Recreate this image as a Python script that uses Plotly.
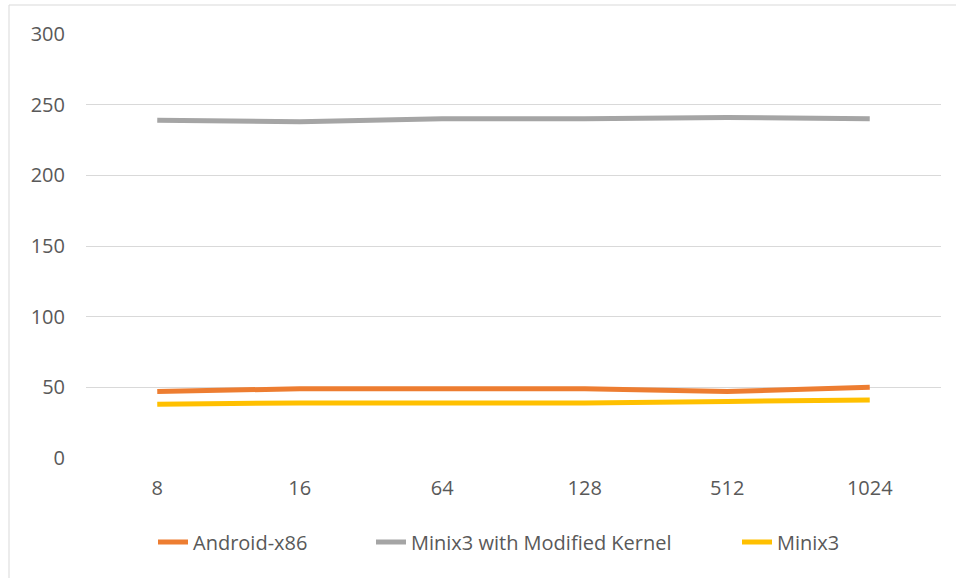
import plotly.graph_objects as go

categories = ["8", "16", "64", "128", "512", "1024"]
android_x86 = [47, 49, 49, 49, 47, 50]
minix3_modified = [239, 238, 240, 240, 241, 240]
minix3 = [38, 39, 39, 39, 40, 41]

series = [
    ("Android-x86", android_x86, "#ED7D31", "legend", 134),
    ("Minix3 with Modified Kernel", minix3_modified, "#A5A5A5", "legend2", 352),
    ("Minix3", minix3, "#FFC000", "legend3", 718),
]

PLOT_L, PLOT_W = 86, 855

fig = go.Figure()
legends = {}
for name, vals, color, leg, px in series:
    fig.add_trace(go.Scatter(
        x=categories, y=vals, name=name, mode="lines",
        line=dict(color=color, width=5), legend=leg,
    ))
    legends[leg] = dict(orientation="h", x=(px + 19 - PLOT_L) / PLOT_W, xanchor="left",
                        y=-0.198, yanchor="middle", bgcolor="rgba(0,0,0,0)",
                        font=dict(size=20, color="#595959"), itemwidth=30)

fig.update_layout(
    width=956, height=578,
    margin=dict(l=86, r=15, t=34, b=120),
    paper_bgcolor="white", plot_bgcolor="white",
    font=dict(family="Open Sans", size=20, color="#595959"),
    showlegend=True,
    xaxis=dict(type="category", range=[-0.5, 5.5], showgrid=False, showline=False,
               zeroline=False, ticks="", ticklabelstandoff=16,
               tickfont=dict(size=20, color="#595959")),
    yaxis=dict(range=[0, 300], dtick=50, showgrid=True, gridcolor="#D9D9D9", gridwidth=1,
               zeroline=False, showline=False, ticks="", ticklabelstandoff=20,
               tickfont=dict(size=20, color="#595959")),
    shapes=[dict(type="rect", xref="paper", yref="paper",
                 x0=(9 - 86) / 855, x1=1.2, y0=-0.5, y1=(458 - 5) / 424,
                 line=dict(color="#D9D9D9", width=1), fillcolor="rgba(0,0,0,0)", layer="below")],
    **legends,
)

fig.write_html("out.html")
